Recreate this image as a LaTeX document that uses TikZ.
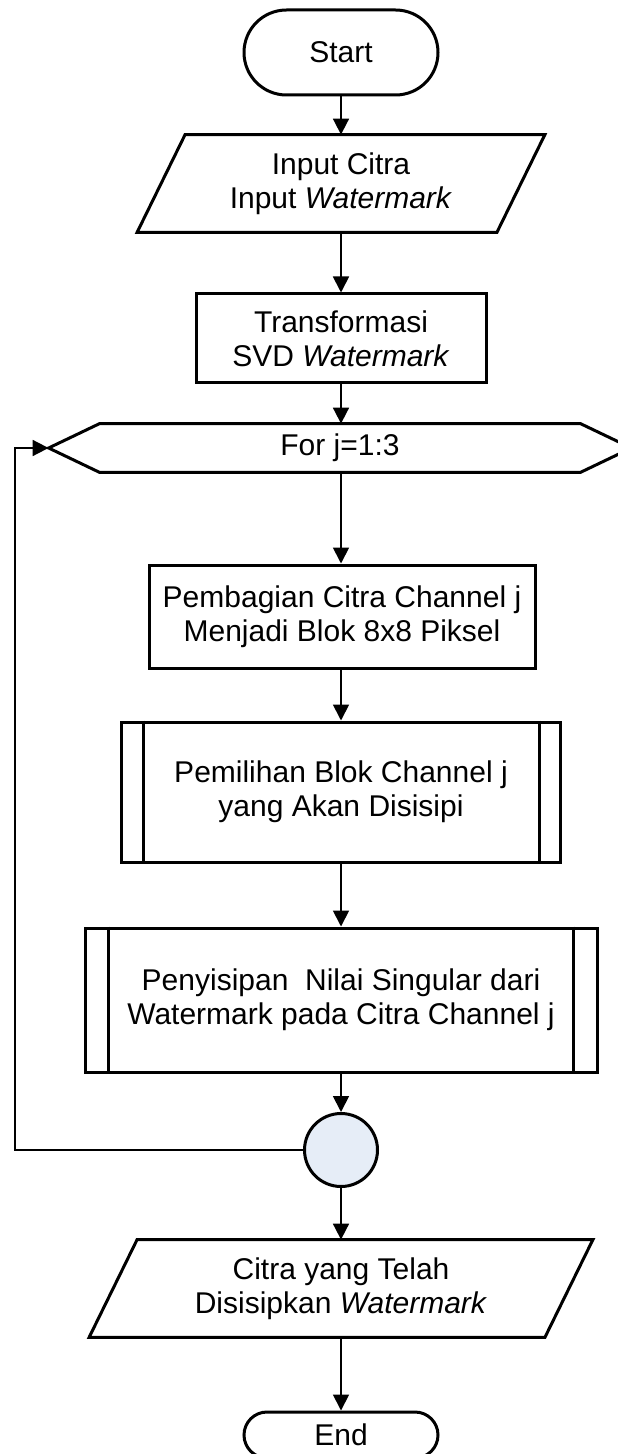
\documentclass[tikz,border=0pt]{standalone}
\usepackage{fontspec}
\setmainfont{Liberation Sans}
\usetikzlibrary{arrows.meta,shapes.misc}
\definecolor{joinfill}{RGB}{230,237,247}
\begin{document}
\begin{tikzpicture}[x=0.5pt,y=-0.5pt,
  every node/.style={font=\fontsize{15}{17}\selectfont, align=center, inner sep=0pt},
  shapeline/.style={draw=black, line width=1.5pt},
  term/.style={shapeline, rounded rectangle, minimum width=97pt},
  proc/.style={shapeline, rectangle},
  subproc/.style={proc, append after command={
      ([xshift=#1]\tikzlastnode.north west) edge[shapeline] ([xshift=#1]\tikzlastnode.south west)
      ([xshift=-#1]\tikzlastnode.north east) edge[shapeline] ([xshift=-#1]\tikzlastnode.south east)}},
  iotext/.style={rectangle, minimum height=48.5pt},
  flow/.style={draw=black, line width=0.9pt, -{Triangle[length=8pt,width=8pt]}}
]
\useasboundingbox (0,0) rectangle (617,1454);

% terminals, boxes and the loop header
\node[term, minimum height=42.5pt] (start) at (341,52.5) {Start};

\node[iotext, minimum width=179.5pt] (in) at (341,183.5) {Input Citra\\Input \textit{Watermark}};
\draw[shapeline, line join=miter]
  ([xshift=12pt]in.north west) -- ([xshift=12pt]in.north east)
  -- ([xshift=-12pt]in.south east) -- ([xshift=-12pt]in.south west) -- cycle;

\node[proc, minimum width=145pt, minimum height=44.5pt] (svd) at (341,338.5)
  {Transformasi\\SVD \textit{Watermark}};

\node[rectangle, minimum width=291pt, minimum height=24pt] (for) at (340,448) {For j=1:3};
\draw[shapeline, line join=miter]
  (for.west) -- ([xshift=25.5pt]for.north west) -- ([xshift=-25.5pt]for.north east)
  -- (for.east) -- ([xshift=-25.5pt]for.south east) -- ([xshift=25.5pt]for.south west) -- cycle;

\node[proc, minimum width=193pt, minimum height=51.5pt] (blk) at (342,616.5)
  {Pembagian Citra Channel j\\Menjadi Blok 8x8 Piksel};

\node[subproc=11.5pt, minimum width=219.5pt, minimum height=70pt] (sel) at (341,792)
  {Pemilihan Blok Channel j\\yang Akan Disisipi};

\node[subproc=12.5pt, minimum width=256pt, minimum height=72pt] (emb) at (341,1000)
  {Penyisipan\ \ Nilai Singular dari\\Watermark pada Citra Channel j};

\node[circle, shapeline, fill=joinfill, minimum size=36.5pt] (join) at (341,1150) {};

\node[iotext, minimum width=227.5pt] (out) at (341,1288.5)
  {Citra yang Telah\\Disisipkan \textit{Watermark}};
\draw[shapeline, line join=miter]
  ([xshift=12pt]out.north west) -- ([xshift=12pt]out.north east)
  -- ([xshift=-12pt]out.south east) -- ([xshift=-12pt]out.south west) -- cycle;

\node[term, minimum height=23pt] (end) at (341,1435) {End};

% connectors
\draw[flow] (start.south) -- (in.north);
\draw[flow] (in.south) -- (svd.north);
\draw[flow] (svd.south) -- (svd.south |- for.north);
\draw[flow] (sel.north |- for.south) -- (sel.north |- blk.north);
\draw[flow] (sel.north |- blk.south) -- (sel.north);
\draw[flow] (sel.south) -- (emb.north);
\draw[flow] (emb.south) -- (join.north);
\draw[flow] (join.south) -- (out.north);
\draw[flow] (out.south) -- (end.north);

\coordinate (lp) at (15,448);
\draw[flow] (join.west) -| (lp) -- (for.west);
\end{tikzpicture}
\end{document}
